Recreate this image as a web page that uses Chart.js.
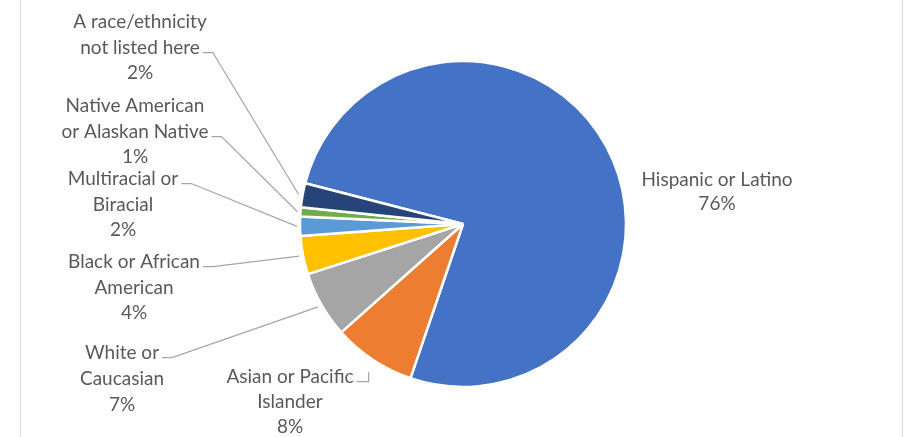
<!DOCTYPE html>
<html>
<head>
<meta charset="utf-8">
<script src="https://cdn.jsdelivr.net/npm/chart.js@4/dist/chart.umd.min.js"></script>
<style>
  html, body { margin: 0; padding: 0; background: #ffffff; }
  #wrap { width: 908px; height: 437px; position: relative; }
</style>
</head>
<body>
<div id="wrap"><canvas id="c" width="908" height="437"></canvas></div>
<script>
// ---- data ----
const categories = [
  'Hispanic or Latino',
  'Asian or Pacific Islander',
  'White or Caucasian',
  'Black or African American',
  'Multiracial or Biracial',
  'Native American or Alaskan Native',
  'A race/ethnicity not listed here'
];
const labelLines = [
  ['Hispanic or Latino'],
  ['Asian or Pacific', 'Islander'],
  ['White or', 'Caucasian'],
  ['Black or African', 'American'],
  ['Multiracial or', 'Biracial'],
  ['Native American', 'or Alaskan Native'],
  ['A race/ethnicity', 'not listed here']
];
const shares = [76.2, 8.2, 6.6, 3.8, 1.9, 0.9, 2.4];
const sliceColors = ['#4472C4', '#ED7D31', '#A5A5A5', '#FFC000', '#5B9BD5', '#70AD47', '#264478'];

// ---- label layout (style only) ----
const labelLayout = [
  { cx: 717, y: 180, lh: 24, leaderLine: -1 },
  { cx: 290, y: 377, lh: 25, leaderLine: 0, elbow: 12, ext: 15, vertical: true },
  { cx: 122, y: 353, lh: 26, leaderLine: 0, elbow: 10, ext: 4 },
  { cx: 134, y: 262, lh: 25.5, leaderLine: 0, elbow: 10, ext: 4 },
  { cx: 123, y: 179, lh: 25.5, leaderLine: 0, elbow: 10, ext: 3 },
  { cx: 135, y: 106, lh: 25.5, leaderLine: 1, elbow: 10, ext: 3 },
  { cx: 140, y: 22, lh: 25.5, leaderLine: 1, elbow: 10, ext: 4 }
];

const total = shares.reduce((a, b) => a + b, 0);

const labelPlugin = {
  id: 'pieLabels',
  afterDraw(chart) {
    const ctx = chart.ctx;
    ctx.save();
    // outer frame edges
    ctx.strokeStyle = '#D9D9D9';
    ctx.lineWidth = 1;
    ctx.beginPath();
    ctx.moveTo(20.5, 0); ctx.lineTo(20.5, 437);
    ctx.moveTo(902.5, 0); ctx.lineTo(902.5, 437);
    ctx.stroke();

    const meta = chart.getDatasetMeta(0);
    ctx.font = '19px Lato';
    ctx.textAlign = 'center';
    ctx.textBaseline = 'middle';
    meta.data.forEach((arc, i) => {
      const p = arc.getProps(['x', 'y', 'startAngle', 'endAngle', 'outerRadius'], true);
      const L = labelLayout[i];
      const lines = labelLines[i].concat([Math.round(shares[i] / total * 100) + '%']);
      ctx.fillStyle = '#595959';
      lines.forEach((t, k) => ctx.fillText(t, L.cx, L.y + k * L.lh));
      if (L.leaderLine >= 0) {
        const t = lines[L.leaderLine];
        const w = ctx.measureText(t).width;
        const sx = L.cx + w / 2 + 3;
        const sy = Math.round(L.y + L.leaderLine * L.lh + 4) + 0.5;
        const mid = (p.startAngle + p.endAngle) / 2;
        const r = p.outerRadius + L.ext;
        const ax = p.x + Math.cos(mid) * r;
        const ay = p.y + Math.sin(mid) * r;
        ctx.strokeStyle = '#A6A6A6';
        ctx.lineWidth = 1.25;
        ctx.beginPath();
        ctx.moveTo(sx, sy);
        ctx.lineTo(sx + L.elbow, sy);
        if (L.vertical) {
          ctx.lineTo(sx + L.elbow, ay);
        } else {
          ctx.lineTo(ax, ay);
        }
        ctx.stroke();
      }
    });
    ctx.restore();
  }
};

new Chart(document.getElementById('c'), {
  type: 'pie',
  data: {
    labels: categories,
    datasets: [{
      data: shares,
      backgroundColor: sliceColors,
      borderColor: '#FFFFFF',
      borderWidth: 2.5,
      hoverOffset: 0,
      offset: 0
    }]
  },
  options: {
    responsive: false,
    animation: false,
    rotation: 284.5,
    radius: 163,
    layout: { padding: { left: 18, right: 0, top: 11, bottom: 0 } },
    plugins: { legend: { display: false }, tooltip: { enabled: false }, title: { display: false } },
    events: []
  },
  plugins: [labelPlugin]
});
</script>
</body>
</html>
